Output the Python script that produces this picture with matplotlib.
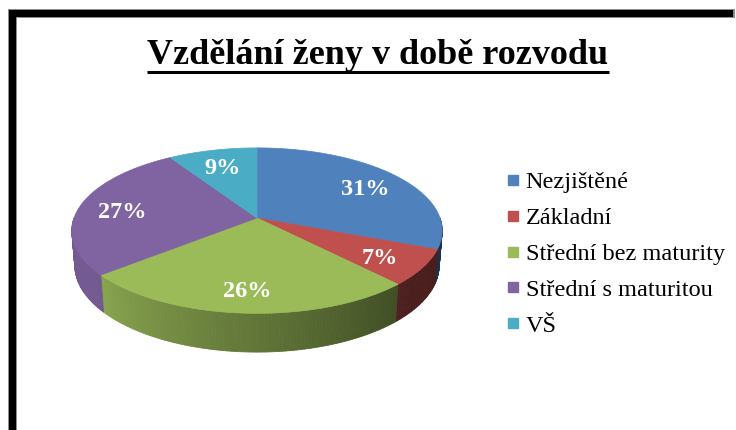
import numpy as np
import matplotlib.pyplot as plt
from matplotlib.patches import Polygon, Rectangle
from matplotlib.lines import Line2D
from matplotlib.colors import to_rgb

# data
categories = ['Nezjištěné', 'Základní', 'Střední bez maturity', 'Střední s maturitou', 'VŠ']
shares = [31, 7, 26, 27, 9]
colors = ['#4F81BD', '#C0504D', '#9BBB59', '#8064A2', '#4BACC6']
title = 'Vzdělání ženy v době rozvodu'

plt.rcParams['font.family'] = ['Liberation Serif', 'DejaVu Serif']

W, H = 736, 430
fig = plt.figure(figsize=(W / 100, H / 100), dpi=100)
ax = fig.add_axes([0, 0, 1, 1])
ax.set_xlim(0, W)
ax.set_ylim(H, 0)
ax.axis('off')

# thick frame (left + top)
ax.add_patch(Rectangle((8, 9), W - 9, 9, color='#8c8c8c', lw=0))
ax.add_patch(Rectangle((8, 9), 9, H, color='#8c8c8c', lw=0))
ax.add_patch(Rectangle((9, 10), W - 12, 7, color='black', lw=0))
ax.add_patch(Rectangle((9, 10), 7, H, color='black', lw=0))

# simple perspective projection of the pie disc
cx, cy = 257, 218
focal, dist = 1076, 5.88
tilt = np.radians(26.2)
thick = 0.213


def project(theta, r=1.0, z=0.0):
    X = r * np.sin(theta)
    Y = r * np.cos(theta)
    up = Y * np.sin(tilt) + z * np.cos(tilt)
    d = dist + Y * np.cos(tilt) - z * np.sin(tilt)
    return cx + focal * X / d, cy - focal * up / d


def shade(deg):
    return np.clip(0.38 + (deg - 130) * 0.52 / 105, 0.38, 0.9)


fracs = np.array(shares) / np.sum(shares)
bounds = np.concatenate([[0], np.cumsum(fracs)]) * 2 * np.pi

# side walls (front half only)
for i, c in enumerate(colors):
    a0 = max(bounds[i], np.pi / 2)
    a1 = min(bounds[i + 1], 3 * np.pi / 2)
    if a1 <= a0:
        continue
    steps = np.linspace(a0, a1, max(2, int(np.degrees(a1 - a0)) + 1))
    for t0, t1 in zip(steps[:-1], steps[1:]):
        xt0, yt0 = project(t0)
        xt1, yt1 = project(t1)
        xb1, yb1 = project(t1, z=-thick)
        xb0, yb0 = project(t0, z=-thick)
        col = np.array(to_rgb(c)) * shade(np.degrees((t0 + t1) / 2))
        ax.add_patch(Polygon([(xt0, yt0), (xt1, yt1), (xb1, yb1), (xb0, yb0)],
                             closed=True, fc=col, ec=col, lw=0.6, zorder=1))

# top faces
for i, c in enumerate(colors):
    th = np.linspace(bounds[i], bounds[i + 1], 120)
    xs, ys = project(th)
    pts = [(cx, cy)] + list(zip(xs, ys))
    ax.add_patch(Polygon(pts, closed=True, fc=c, ec=c, lw=0.5, zorder=2))

# percentage labels
for i, s in enumerate(shares):
    mid = (bounds[i] + bounds[i + 1]) / 2
    lx, ly = project(mid, r=0.76)
    ax.text(lx, ly + 4, f'{s}%', color='white', fontsize=17.5, fontweight='bold',
            ha='center', va='center', zorder=3)

# title with underline
t = ax.text(378, 64, title, fontsize=26, fontweight='bold', ha='center', va='baseline')
fig.canvas.draw()
bb = t.get_window_extent(renderer=fig.canvas.get_renderer())
(x0, _), (x1, _) = ax.transData.inverted().transform([[bb.x0, bb.y0], [bb.x1, bb.y1]])
ax.plot([x0, x1], [72, 72], color='black', lw=2.2, solid_capstyle='butt')

# legend
handles = [Line2D([], [], marker='s', color=c, linestyle='none', markersize=7)
           for c in colors]
ax.legend(handles, categories, loc='center left', bbox_to_anchor=(506 / W, 1 - 254 / H),
          frameon=False, fontsize=17.5, borderpad=0, borderaxespad=0,
          handlelength=0.6, handletextpad=0.21, labelspacing=0.57)

plt.savefig('out.png', dpi=100)
